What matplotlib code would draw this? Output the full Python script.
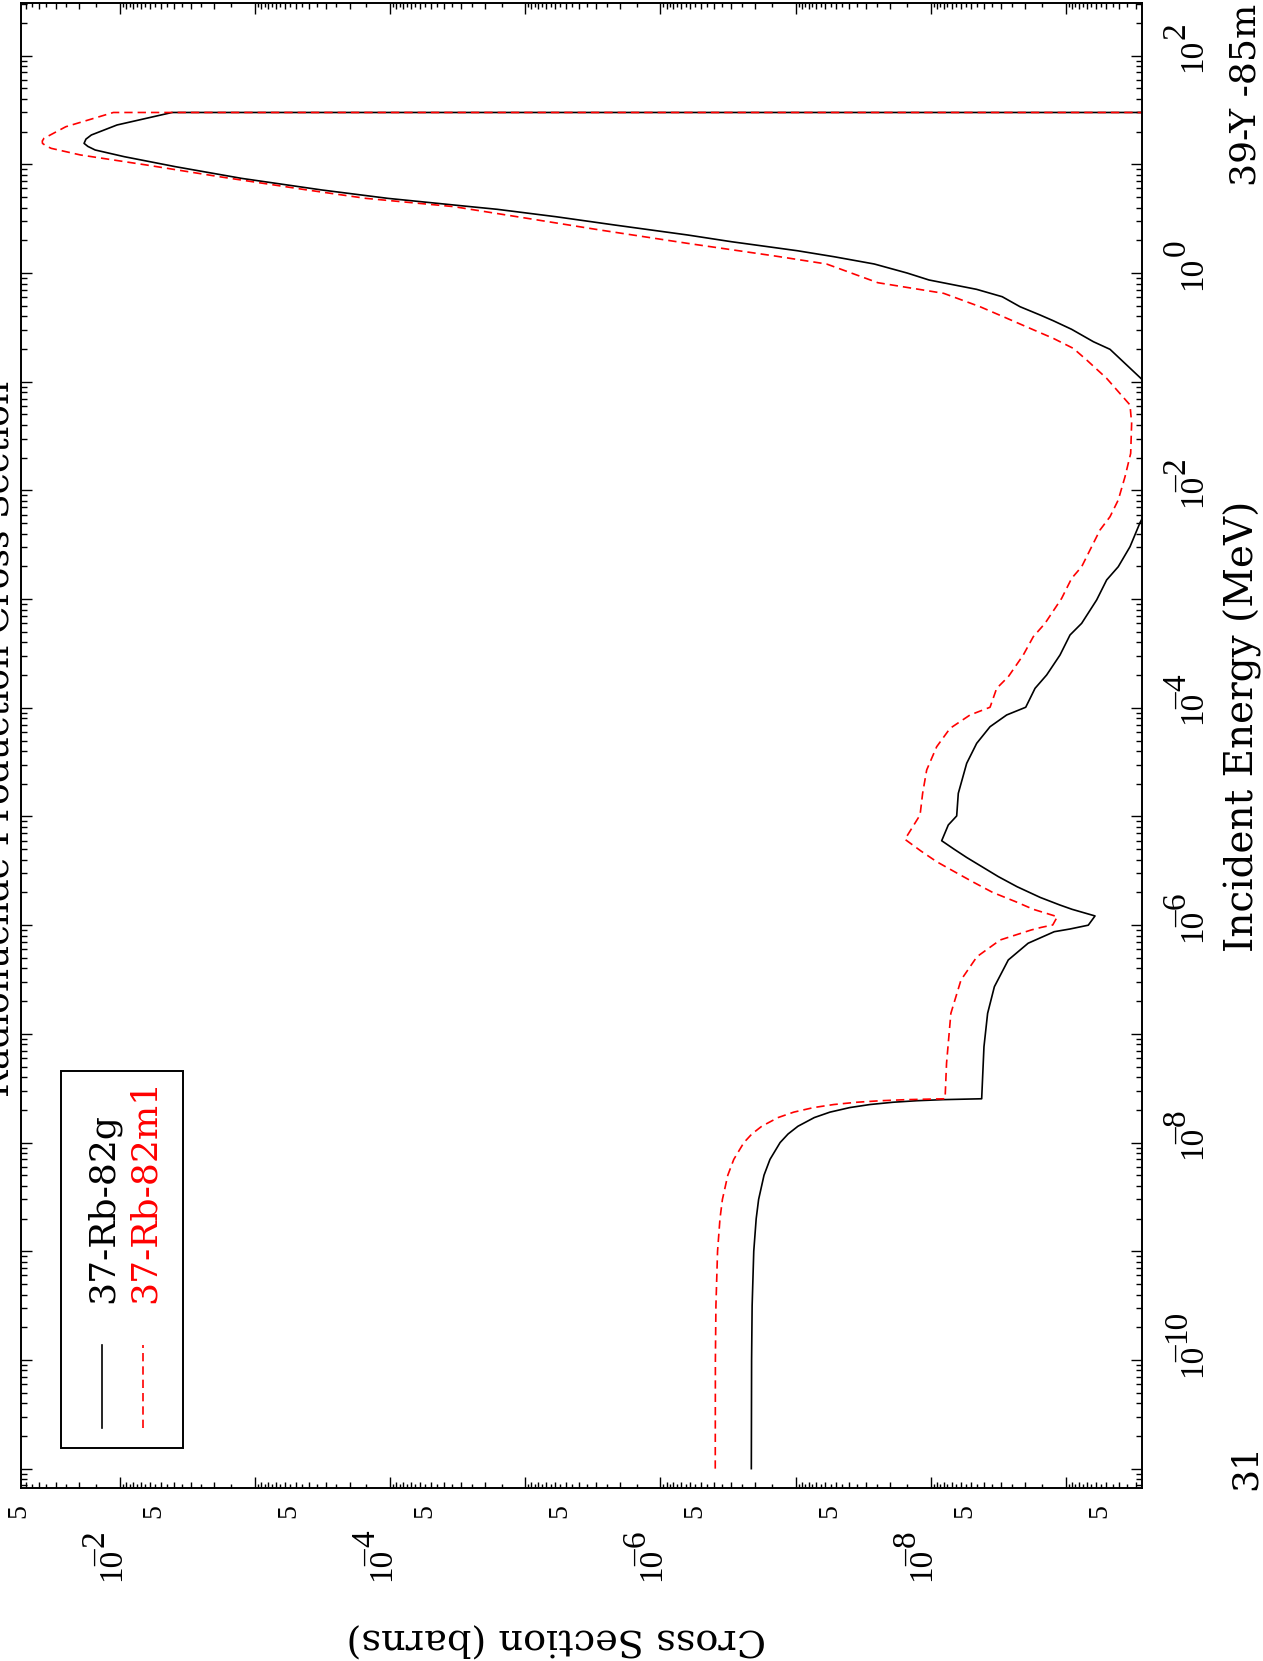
import matplotlib
matplotlib.use("Agg")
import matplotlib.pyplot as plt
import matplotlib.transforms as mtransforms
from matplotlib.lines import Line2D
from matplotlib.patches import Rectangle
from matplotlib.ticker import FixedLocator, NullFormatter
import numpy as np

# log10 of incident energy (MeV) and of cross section (barns)
log_e_g = [-11.0, -10.0, -9.5, -9.0, -8.7, -8.523, -8.3, -8.155, -8.0, -7.921, -7.85,
           -7.770, -7.72, -7.678, -7.65, -7.629, -7.615, -7.605, -7.597,
           -7.118, -6.811, -6.566, -6.320, -6.166, -6.060, -6.035, -6.000, -5.915,
           -5.854, -5.814, -5.745, -5.646, -5.553, -5.462, -5.377, -5.301, -5.223,
           -5.078, -4.995, -4.787, -4.511, -4.327,
           -4.174, -4.066, -3.995, -3.821, -3.698, -3.514, -3.330, -3.223, -3.008,
           -2.824, -2.702, -2.518, -2.297, -1.9, -1.4, -1.02,
           -0.702, -0.632, -0.518, -0.439, -0.386, -0.310, -0.218, -0.150, -0.064,
           0.0, 0.083, 0.150, 0.205, 0.242, 0.288, 0.350, 0.442, 0.518, 0.586,
           0.626, 0.687, 0.764, 0.871, 0.978, 1.070, 1.132, 1.165, 1.193, 1.232, 1.270,
           1.362, 1.477, 1.477]
log_xs_g = [-6.673, -6.675, -6.679, -6.691, -6.709, -6.727, -6.767, -6.811, -6.886, -6.945,
            -7.018, -7.139, -7.255, -7.402, -7.551, -7.722, -7.898, -8.094, -8.378,
            -8.395, -8.422, -8.472, -8.575, -8.722, -8.915, -9.032, -9.167, -9.217,
            -9.047, -8.956, -8.812, -8.640, -8.501, -8.380, -8.267, -8.174, -8.082,
            -8.131, -8.193, -8.205, -8.267, -8.341,
            -8.440, -8.563, -8.704, -8.773, -8.859, -8.958, -9.032, -9.118, -9.229,
            -9.303, -9.389, -9.476, -9.550, -9.72, -9.78, -9.60,
            -9.328, -9.205, -9.044, -8.908, -8.810, -8.662, -8.530, -8.340, -7.988,
            -7.826, -7.583, -7.285, -7.014, -6.797, -6.526, -6.201, -5.660, -5.227, -4.793,
            -4.469, -3.982, -3.494, -2.899, -2.412, -2.033, -1.816, -1.762, -1.734, -1.748,
            -1.788, -1.978, -2.385, -12.0]

log_e_m1 = [-11.0, -10.0, -9.5, -9.0, -8.7, -8.523, -8.3, -8.155, -8.0, -7.921, -7.85,
            -7.770, -7.72, -7.678, -7.65, -7.629, -7.615, -7.605, -7.597,
            -7.270, -6.811, -6.504, -6.290, -6.136, -6.044, -6.020, -5.998, -5.922,
            -5.854, -5.784, -5.699, -5.600, -5.509, -5.416, -5.319, -5.210,
            -4.986, -4.787, -4.572, -4.358, -4.189,
            -4.066, -3.995, -3.821, -3.714, -3.514, -3.346, -3.223, -2.993, -2.809,
            -2.702, -2.548, -2.364, -2.242, -2.088, -1.874, -1.659, -1.383, -1.214,
            -0.969, -0.800, -0.693, -0.601, -0.509, -0.402, -0.310, -0.187, -0.089,
            0.083, 0.156, 0.273, 0.396, 0.504, 0.611, 0.687, 0.764, 0.886, 0.994,
            1.086, 1.147, 1.170, 1.193, 1.215, 1.239, 1.346, 1.477, 1.477]
log_xs_m1 = [-6.406, -6.407, -6.411, -6.423, -6.441, -6.459, -6.499, -6.543, -6.618, -6.677,
             -6.750, -6.871, -6.987, -7.134, -7.283, -7.454, -7.629, -7.824, -8.107,
             -8.118, -8.150, -8.225, -8.343, -8.515, -8.745, -8.820, -8.904, -8.938,
             -8.760, -8.630, -8.460, -8.310, -8.178, -8.045, -7.930, -7.810,
             -7.922, -7.941, -7.971, -8.045, -8.144,
             -8.292, -8.440, -8.489, -8.575, -8.686, -8.760, -8.847, -8.970, -9.044,
             -9.118, -9.180, -9.254, -9.328, -9.389, -9.439, -9.481, -9.488, -9.476,
             -9.303, -9.155, -9.056, -8.908, -8.736, -8.538, -8.366, -8.097, -7.609,
             -7.230, -6.851, -6.201, -5.552, -5.010, -4.469, -3.819, -3.386, -2.736, -2.195,
             -1.708, -1.491, -1.452, -1.426, -1.425, -1.437, -1.599, -1.951, -12.0]

names = ["37-Rb-82g", "37-Rb-82m1"]
colors = ["black", "red"]
title = "Radionuclide Production Cross Section"
x_label = "Incident Energy (MeV)"
y_label = "Cross Section (barns)"
target = "39-Y -85m"
z_number = "31"

energy_decades = [-10, -8, -6, -4, -2, 0, 2]
xs_decades = [-2, -4, -6, -8]
xs_fives = [-2, -3, -4, -5, -6, -7, -8, -9, -10]

W, H = 1263, 1661
WORDS = "DejaVu Serif"
SERIF = "Liberation Serif"

fig = plt.figure(figsize=(W / 100, H / 100), dpi=100)


def fx(px):
    return px / W


def fy(py):
    return 1 - py / H


rect = [fx(20.7), fy(1488), (1141.7 - 20.7) / W, (1488 - 2.7) / H]
ax = fig.add_axes(rect)

ax.plot(np.power(10.0, log_xs_g), np.power(10.0, log_e_g), color=colors[0], lw=1.2)
ax.plot(np.power(10.0, log_xs_m1), np.power(10.0, log_e_m1), color=colors[1], lw=1.2,
        dashes=(5, 3))

x_lim = (10 ** -1.265, 10 ** -9.5625)
y_lim = (10 ** -11.178, 10 ** 2.487)
ax.set_xscale("log")
ax.set_yscale("log")
ax.set_xlim(*x_lim)
ax.set_ylim(*y_lim)

for axis in (ax.xaxis, ax.yaxis):
    axis.set_major_locator(FixedLocator([10.0 ** k for k in range(-12, 4)]))
    axis.set_minor_locator(FixedLocator([m * 10.0 ** k for k in range(-12, 4)
                                         for m in range(2, 10)]))
    axis.set_major_formatter(NullFormatter())
    axis.set_minor_formatter(NullFormatter())
ax.tick_params(which="both", direction="in", top=True, right=True, width=1.0)
ax.tick_params(which="major", length=8)
ax.tick_params(which="minor", length=4.3)
for sp in ax.spines.values():
    sp.set_linewidth(1.4)

# extra short ticks at the half steps of the cross-section axis
ax_half = fig.add_axes(rect, frameon=False)
ax_half.set_xscale("log")
ax_half.set_xlim(*x_lim)
ax_half.xaxis.set_major_locator(FixedLocator([m * 10.0 ** k for k in range(-11, 0)
                                              for m in np.arange(1.5, 10, 1.0)]))
ax_half.xaxis.set_major_formatter(NullFormatter())
ax_half.xaxis.set_minor_locator(FixedLocator([]))
ax_half.set_yticks([])
ax_half.tick_params(axis="x", which="major", direction="in", top=True, bottom=True,
                    length=2.6, width=1.0, labelbottom=False)
ax_half.patch.set_visible(False)

# tick labels, everything turned a quarter turn like the reference page
size_num = 24
em = size_num * 100 / 72
raise_px = 16


def power_label(trans, x, y, exp):
    kw = dict(rotation=90, rotation_mode="anchor", ha="left", va="baseline",
              fontsize=size_num, family=SERIF)
    t_base = mtransforms.offset_copy(trans, fig=fig, x=0, y=-0.5 * em, units="dots")
    ax.text(x, y, "10", transform=t_base, **kw)
    t_exp = mtransforms.offset_copy(trans, fig=fig, x=-raise_px, y=0.5 * em, units="dots")
    ax.text(x, y, str(abs(exp)), transform=t_exp, **kw)
    if exp < 0:
        t_min = mtransforms.offset_copy(trans, fig=fig, x=-raise_px, y=-0.05 * em,
                                        units="dots")
        ax.text(x, y, "\u2013", transform=t_min, **kw)


e_trans = mtransforms.blended_transform_factory(fig.transFigure, ax.transData)
for k in energy_decades:
    power_label(e_trans, fx(1201), 10.0 ** k, k)

s_trans = mtransforms.blended_transform_factory(ax.transData, fig.transFigure)
for k in xs_decades:
    power_label(s_trans, 10.0 ** k, fy(1564), k)
for k in xs_fives:
    ax.text(5 * 10.0 ** k, fy(1511), "5", transform=s_trans, rotation=90,
            rotation_mode="anchor", ha="center", va="baseline", fontsize=20, family=SERIF)

# axis titles and page labels
word = dict(family=WORDS, rotation_mode="anchor", va="baseline")
fig.text(fx(1254), fy(726), x_label, rotation=90, ha="center", fontsize=28, **word)
fig.text(fx(556), fy(1629), y_label, rotation=180, ha="center", fontsize=27.5, **word)
fig.text(fx(9), fy(739), title, rotation=90, ha="center", fontsize=26, **word)
fig.text(fx(1256), fy(95), target, rotation=90, ha="center", fontsize=26, **word)
fig.text(fx(1256), fy(1467), z_number, rotation=90, ha="center", fontsize=26, **word)

# legend box
fig.add_artist(Rectangle((fx(61), fy(1448)), (183 - 61) / W, (1448 - 1071) / H,
                         transform=fig.transFigure, fill=False, lw=1.4, color="black"))
for i, (name, col) in enumerate(zip(names, colors)):
    xl = 101.7 + 41.6 * i
    fig.add_artist(Line2D([fx(xl), fx(xl)], [fy(1428), fy(1345)], transform=fig.transFigure,
                          color=col, lw=1.2, dashes=(5, 3) if i else (None, None)))
    fig.text(fx(xl + 11.5), fy(1303), name, rotation=90, ha="left", color=col,
             fontsize=26, **word)

fig.savefig("out.png", dpi=100)
